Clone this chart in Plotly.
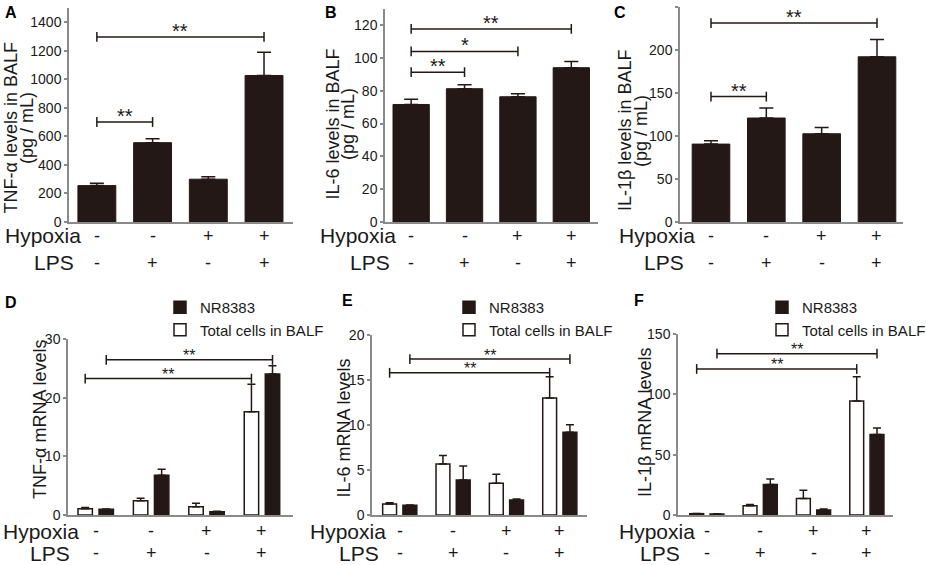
import plotly.graph_objects as go

W, H = 926, 565
BAR = "#231815"
AXIS = "#8a8a8a"
TXT = "#1a1a1a"
FONT = "Liberation Sans, Arial, sans-serif"

# groups along the x axis
groups = [0, 1, 2, 3]
hypoxia_signs = ["-", "-", "+", "+"]
lps_signs = ["-", "+", "-", "+"]

# top row: protein levels in BALF (mean, upper SEM)
tnf_balf = [255, 556, 300, 1027]
tnf_balf_err = [17, 28, 17, 162]
il6_balf = [71.6, 81.2, 76.3, 94.0]
il6_balf_err = [3.2, 2.4, 1.8, 3.8]
il1b_balf = [90.6, 120.9, 102.6, 192.1]
il1b_balf_err = [3.9, 11.7, 7.4, 20.2]

# significance brackets (from group, to group, height, label)
tnf_balf_sig = [(0, 1, 701, "**"), (0, 3, 1297, "**")]
il6_balf_sig = [(0, 1, 91.3, "**"), (0, 2, 103.9, "*"), (0, 3, 117.6, "**")]
il1b_balf_sig = [(0, 1, 145.8, "**"), (0, 3, 231.3, "**")]

# bottom row: mRNA levels, total BALF cells vs NR8383
tnf_total = [1.08, 2.45, 1.42, 17.64]
tnf_total_err = [0.22, 0.4, 0.58, 4.7]
tnf_nr = [0.97, 6.77, 0.57, 24.07]
tnf_nr_err = [0.05, 1.03, 0.05, 1.43]
il6_total = [1.22, 5.67, 3.52, 13.0]
il6_total_err = [0.15, 0.93, 1.0, 2.37]
il6_nr = [1.07, 3.89, 1.67, 9.19]
il6_nr_err = [0.05, 1.55, 0.11, 0.85]
il1b_total = [1.1, 7.75, 13.6, 94.4]
il1b_total_err = [0.2, 0.85, 6.9, 20.2]
il1b_nr = [0.8, 25.2, 4.15, 66.7]
il1b_nr_err = [0.2, 4.7, 0.85, 5.3]

# (series, from group, to group, height, label)
tnf_mrna_sig = [("total", 0, 3, 23.3, "**"), ("nr", 0, 3, 26.5, "**")]
il6_mrna_sig = [("total", 0, 3, 15.8, "**"), ("nr", 0, 3, 17.33, "**")]
il1b_mrna_sig = [("total", 0, 3, 121, "**"), ("nr", 0, 3, 133.7, "**")]


def px(x):
    return x / W


def py(y):
    return 1 - y / H


fig = go.Figure()
layout = {}
annotations = []

# panel geometry in pixels: x-domain, y-domain (bottom, top), ranges, title lines (x centres, y centre)
panels = {
    1: dict(letter="A", xd=(69, 293), yd=(222, 8), yr=[0, 1500], dt=200, xr=[-0.5, 3.52],
            title=["TNF-α levels in BALF", "(pg / mL)"], tx=(10.5, 27), ty=128, lpos=(3, 2),
            hyp=2.7, lps=31.7, rows=(236, 263)),
    2: dict(letter="B", xd=(385, 598), yd=(222, 8.6), yr=[0, 130], dt=20, xr=[-0.49, 3.5],
            title=["IL-6 levels in BALF", "(pg / mL)"], tx=(332.5, 348), ty=124, lpos=(323, 2),
            hyp=318, lps=348, rows=(236, 263)),
    3: dict(letter="C", xd=(680, 903), yd=(222, 7), yr=[0, 250], dt=50, xr=[-0.56, 3.47],
            title=["IL-1β levels in BALF", "(pg / mL)"], tx=(625, 641), ty=131, lpos=(612, 2),
            hyp=617, lps=642, rows=(236, 263)),
    4: dict(letter="D", xd=(68, 293), yd=(515, 339.3), yr=[0, 30], dt=10, xr=[-0.5, 3.56],
            title=["TNF-α mRNA levels"], tx=(40,), ty=420, lpos=(3, 292),
            hyp=1, lps=28, rows=(531, 553), leg=160),
    5: dict(letter="E", xd=(372, 587), yd=(515, 335), yr=[0, 20], dt=5, xr=[-0.52, 3.51],
            title=["IL-6 mRNA levels"], tx=(343.5,), ty=428, lpos=(340, 290),
            hyp=308, lps=337, rows=(531, 553), leg=449),
    6: dict(letter="F", xd=(678, 893), yd=(515, 334), yr=[0, 150], dt=50, xr=[-0.54, 3.49],
            title=["IL-1β mRNA levels"], tx=(645,), ty=423, lpos=(632, 290),
            hyp=617, lps=638, rows=(531, 553), leg=762),
}

for i, p in panels.items():
    s = "" if i == 1 else str(i)
    layout["xaxis" + s] = dict(
        domain=[px(p["xd"][0]), px(p["xd"][1])], range=p["xr"], anchor="y" + s,
        showline=True, linecolor=AXIS, linewidth=1.5, ticks="", showticklabels=False,
        showgrid=False, zeroline=False, fixedrange=True)
    layout["yaxis" + s] = dict(
        domain=[py(p["yd"][0]), py(p["yd"][1])], range=p["yr"], anchor="x" + s,
        dtick=p["dt"], tick0=0, showline=True, linecolor=AXIS, linewidth=1.5,
        ticks="outside", ticklen=3, tickwidth=1.5, tickcolor=AXIS,
        tickfont=dict(size=14, color=TXT, family=FONT),
        showgrid=False, zeroline=False, fixedrange=True)
    # panel letter
    annotations.append(dict(text="<b>%s</b>" % p["letter"], x=px(p["lpos"][0]), y=py(p["lpos"][1]),
                            xref="paper", yref="paper", xanchor="left", yanchor="top",
                            showarrow=False, font=dict(size=16, color="#000", family=FONT)))
    # y title, one annotation per line
    for line, tx in zip(p["title"], p["tx"]):
        annotations.append(dict(text=line, x=px(tx), y=py(p["ty"]),
                                xref="paper", yref="paper", xanchor="center", yanchor="middle",
                                textangle=-90, showarrow=False,
                                font=dict(size=18, color=TXT, family=FONT)))
    # treatment rows
    for name, xl, ry in (("Hypoxia", p["hyp"], p["rows"][0]), ("LPS", p["lps"], p["rows"][1])):
        annotations.append(dict(text=name, x=px(xl), y=py(ry), xref="paper", yref="paper",
                                xanchor="left", yanchor="middle", showarrow=False,
                                font=dict(size=21, color=TXT, family=FONT)))
    for g, hs, ls in zip(groups, hypoxia_signs, lps_signs):
        for sign, ry in ((hs, p["rows"][0]), (ls, p["rows"][1])):
            annotations.append(dict(text=sign, x=g, y=py(ry), xref="x" + s, yref="paper",
                                    xanchor="center", yanchor="middle", showarrow=False,
                                    font=dict(size=18, color=TXT, family=FONT)))


def bracket(x0, x1, h, label, s, star_size, yshift):
    fig.add_trace(go.Scatter(
        x=[x0, x1], y=[h, h], mode="lines+markers", xaxis="x" + s, yaxis="y" + s,
        line=dict(color=BAR, width=1.5),
        marker=dict(symbol="line-ns", size=7, line=dict(color=BAR, width=1.5)),
        showlegend=False, hoverinfo="skip"))
    annotations.append(dict(text=label, x=(x0 + x1) / 2, y=h, xref="x" + s, yref="y" + s,
                            xanchor="center", yanchor="middle", yshift=yshift, showarrow=False,
                            font=dict(size=star_size, color=BAR, family=FONT)))


# top row
top = [(tnf_balf, tnf_balf_err, tnf_balf_sig), (il6_balf, il6_balf_err, il6_balf_sig),
       (il1b_balf, il1b_balf_err, il1b_balf_sig)]
for i, (vals, err, sig) in enumerate(top, start=1):
    s = "" if i == 1 else str(i)
    fig.add_trace(go.Bar(
        x=groups, y=vals, width=0.68, xaxis="x" + s, yaxis="y" + s,
        marker=dict(color=BAR, line=dict(color=BAR, width=1)),
        error_y=dict(type="data", array=err, arrayminus=[0] * len(err), symmetric=False,
                     color=BAR, thickness=1.5, width=7),
        showlegend=False))
    for a, b, h, lab in sig:
        bracket(a, b, h, lab, s, 20, 6)

# bottom row
SHIFT = {"total": -0.19, "nr": 0.19}
BW = 0.26
bottom = [(tnf_total, tnf_total_err, tnf_nr, tnf_nr_err, tnf_mrna_sig),
          (il6_total, il6_total_err, il6_nr, il6_nr_err, il6_mrna_sig),
          (il1b_total, il1b_total_err, il1b_nr, il1b_nr_err, il1b_mrna_sig)]
for k, (tv, te, nv, ne, sig) in enumerate(bottom):
    i = k + 4
    s = str(i)
    leg = "legend" if k == 0 else "legend%d" % (k + 1)
    fig.add_trace(go.Bar(
        x=groups, y=nv, width=BW, offset=SHIFT["nr"] - BW / 2, xaxis="x" + s, yaxis="y" + s,
        name="NR8383", legend=leg,
        marker=dict(color=BAR, line=dict(color=BAR, width=1.5)),
        error_y=dict(type="data", array=ne, arrayminus=[0] * len(ne), symmetric=False,
                     color=BAR, thickness=1.5, width=4)))
    fig.add_trace(go.Bar(
        x=groups, y=tv, width=BW, offset=SHIFT["total"] - BW / 2, xaxis="x" + s, yaxis="y" + s,
        name="Total cells in BALF", legend=leg,
        marker=dict(color="white", line=dict(color=BAR, width=1.5)),
        error_y=dict(type="data", array=te, arrayminus=[0] * len(te), symmetric=False,
                     color=BAR, thickness=1.5, width=4)))
    for series, a, b, h, lab in sig:
        bracket(a + SHIFT[series], b + SHIFT[series], h, lab, s, 16, 4)
    layout[leg] = dict(x=px(panels[i]["leg"]), y=py(291), xanchor="left", yanchor="top",
                       bgcolor="rgba(0,0,0,0)", traceorder="normal",
                       font=dict(size=15, color=TXT, family=FONT))

fig.update_layout(**layout)
fig.update_layout(
    width=W, height=H, autosize=False,
    # legends near the right edge must not push the margins
    margin=dict(l=0, r=0, t=0, b=0, autoexpand=False),
    paper_bgcolor="white", plot_bgcolor="white",
    barmode="overlay",
    font=dict(family=FONT, color=TXT),
    annotations=annotations,
)
# page body margin would push the 926x565 figure out of the window
fig.write_html("out.html", config={"displayModeBar": False},
               post_script="document.body.style.margin='0px';")
